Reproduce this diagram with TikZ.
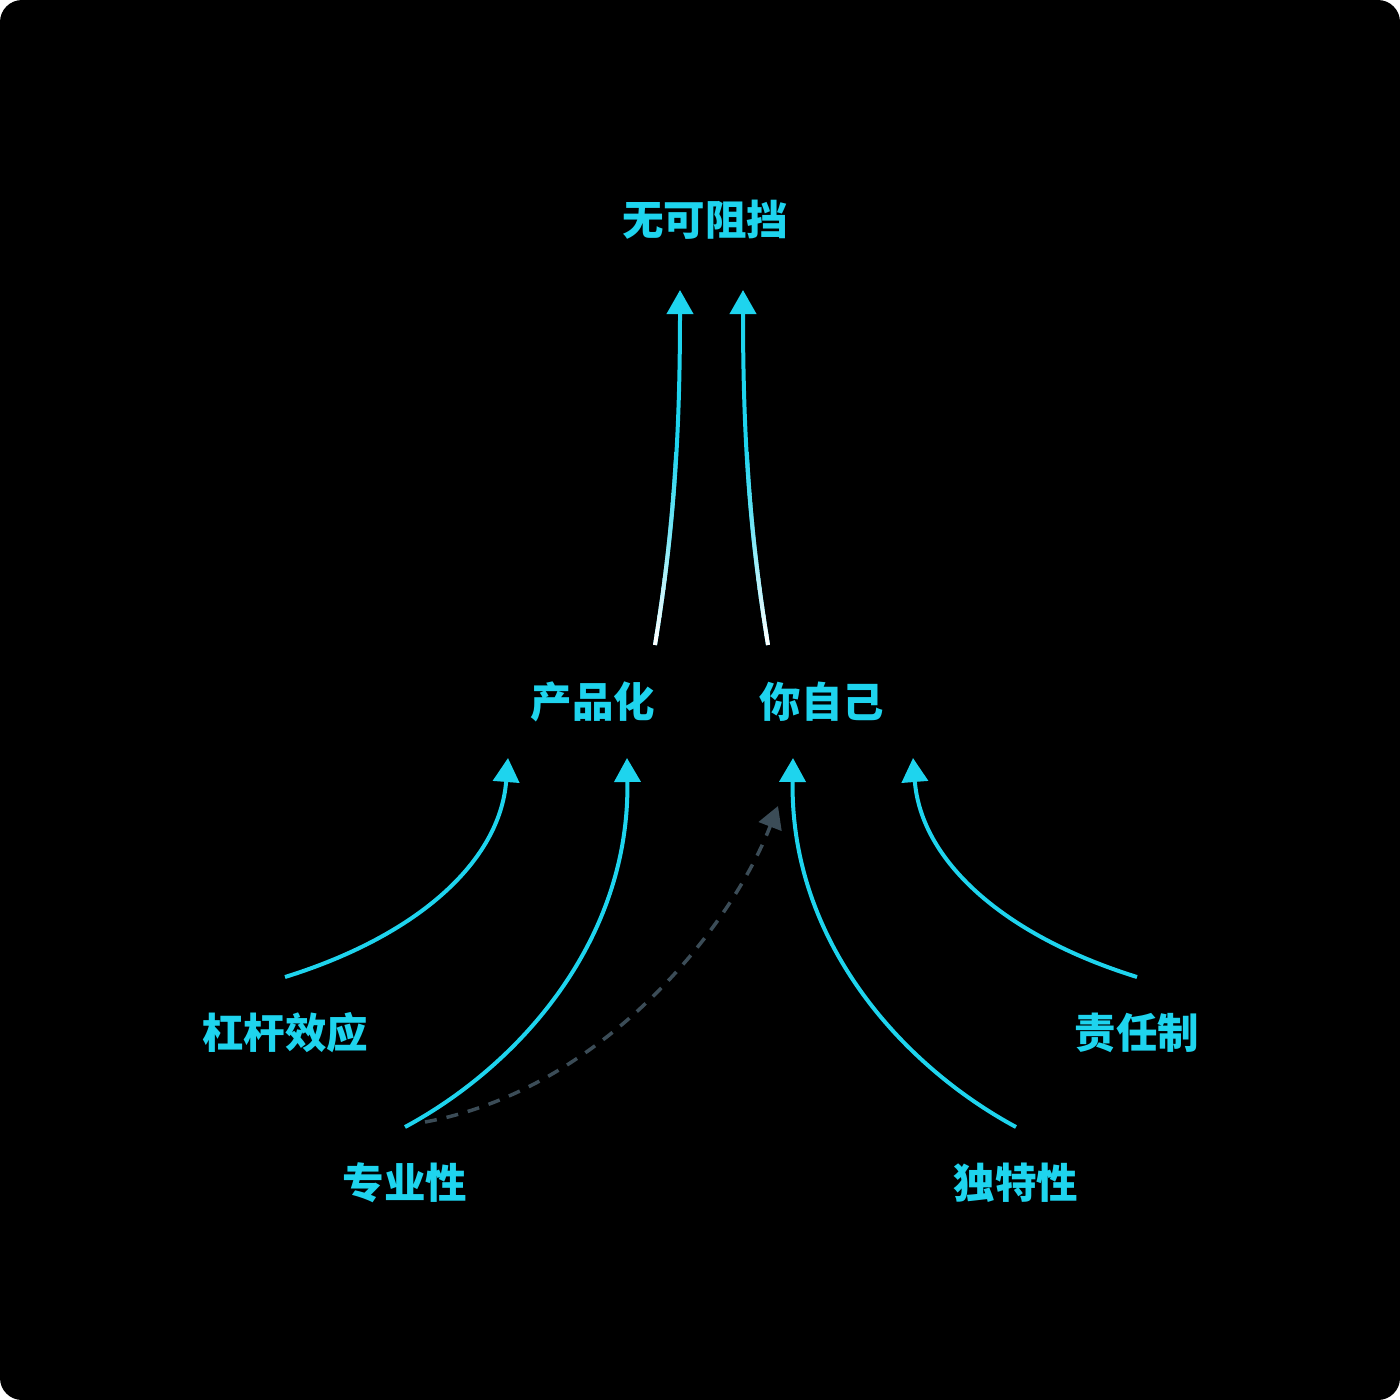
\documentclass[tikz,border=0pt]{standalone}
\usepackage{fontspec}
\newfontfamily\cjk{Noto Sans CJK SC}
\usetikzlibrary{arrows.meta}
\definecolor{cyanc}{HTML}{1ED4EE}
\definecolor{hintgray}{HTML}{3B4C57}

\begin{document}
\begin{tikzpicture}[x=1pt,y=-1pt,
  word/.style={font=\cjk\bfseries\fontsize{41.5}{41.5}\selectfont, text=cyanc, inner sep=0pt},
  lift/.style={line width=4pt, draw=cyanc, -{Triangle[width=26pt,length=24pt]}},
  hint/.style={line width=3.5pt, draw=hintgray, dash pattern=on 12pt off 10pt,
    -{Triangle[width=24pt,length=22pt]}}]
  \fill[white] (0,0) rectangle (1400,1400);
  \fill[black,rounded corners=22pt] (0,0) rectangle (1400,1400);

  \node[word] (goal) at (705,220) {无可阻挡};
  \node[word] (prod) at (593,702) {产品化};
  \node[word] (self) at (822,702) {你自己};
  \node[word] (lev) at (285,1033) {杠杆效应};
  \node[word] (resp) at (1137,1033) {责任制};
  \node[word] (prof) at (405,1183) {专业性};
  \node[word] (uniq) at (1016,1183) {独特性};

  % lower level
  \draw[lift] ([yshift=56pt]lev.center) .. controls +(135,-42) and +(-8,102) .. ([xshift=-85pt,yshift=-56pt]prod.center);
  \draw[lift] ([yshift=56pt]prof.center) .. controls +(115,-62) and +(3,182) .. ([xshift=34pt,yshift=-56pt]prod.center);
  \draw[lift] ([yshift=56pt]uniq.center) .. controls +(-115,-62) and +(-3,182) .. ([xshift=-29pt,yshift=-56pt]self.center);
  \draw[lift] ([yshift=56pt]resp.center) .. controls +(-135,-42) and +(8,102) .. ([xshift=91pt,yshift=-56pt]self.center);
  \draw[hint] ([xshift=20pt,yshift=61pt]prof.center) .. controls +(175,-32) and +(-48,124) .. ([xshift=-44pt,yshift=-104pt]self.center);

  % upper level
  \draw[lift] ([xshift=62pt,yshift=57pt]prod.center) .. controls +(17,-105) and +(0,160) .. ([xshift=-25pt,yshift=-70pt]goal.center);
  \draw[lift] ([xshift=-54pt,yshift=57pt]self.center) .. controls +(-17,-105) and +(0,160) .. ([xshift=38pt,yshift=-70pt]goal.center);
  \foreach \k in {0,...,19}{
    \pgfmathsetmacro\ta{\k*0.03}
    \pgfmathsetmacro\tb{\k*0.03+0.035}
    \pgfmathtruncatemacro\w{100-\k*5}
    \path ([xshift=62pt,yshift=57pt]prod.center) .. controls +(17,-105) and +(0,160) .. ([xshift=-25pt,yshift=-70pt]goal.center)
      coordinate[pos=\ta] (l1) coordinate[pos=\tb] (l2);
    \path ([xshift=-54pt,yshift=57pt]self.center) .. controls +(-17,-105) and +(0,160) .. ([xshift=38pt,yshift=-70pt]goal.center)
      coordinate[pos=\ta] (r1) coordinate[pos=\tb] (r2);
    \draw[line width=4pt, draw=white!\w!cyanc] (l1) -- (l2) (r1) -- (r2);
  }
\end{tikzpicture}
\end{document}
